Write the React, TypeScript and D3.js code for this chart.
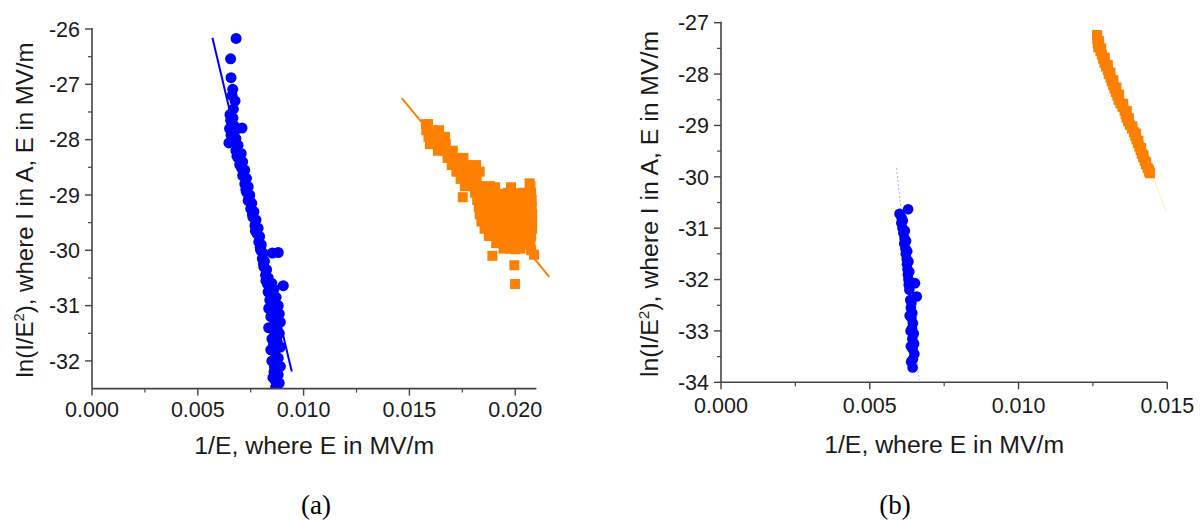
import React from 'react';
import * as d3 from 'd3';

// ---------- tick values / labels ----------
const xTicksA = [0, 0.005, 0.01, 0.015, 0.02];
const xTickLabelsA = ['0.000', '0.005', '0.010', '0.015', '0.020'];
const xMinorA = [0.0025, 0.0075, 0.0125, 0.0175];
const yTicksA = [-26, -27, -28, -29, -30, -31, -32];
const yMinorA = [-26.5, -27.5, -28.5, -29.5, -30.5, -31.5];

const xTicksB = [0, 0.005, 0.01, 0.015];
const xTickLabelsB = ['0.000', '0.005', '0.010', '0.015'];
const xMinorB = [0.0025, 0.0075, 0.0125];
const yTicksB = [-27, -28, -29, -30, -31, -32, -33, -34];
const yMinorB = [-27.5, -28.5, -29.5, -30.5, -31.5, -32.5, -33.5];

// ---------- panel (a) data ----------
const blueA: [number, number][] = [
  [0.00681, -26.17], [0.00655, -26.54], [0.00657, -26.88], [0.00665, -27.09], [0.00662, -27.2],
  [0.00676, -27.3], [0.00652, -27.55], [0.00666, -27.61], [0.0066, -27.7], [0.0065, -27.8],
  [0.00709, -27.79], [0.00672, -27.75], [0.00657, -27.92], [0.00647, -28.06], [0.0068, -27.98],
  [0.0069, -28.1], [0.0068, -28.2], [0.00705, -28.25], [0.00695, -28.35], [0.00712, -28.4],
  [0.00705, -28.5], [0.00722, -28.55], [0.00712, -28.65], [0.0073, -28.7], [0.00722, -28.8],
  [0.00738, -28.85], [0.0073, -28.95], [0.00745, -29.0], [0.00738, -29.1], [0.00755, -29.15],
  [0.0075, -29.25], [0.00765, -29.3], [0.0076, -29.4], [0.00775, -29.45], [0.0077, -29.55],
  [0.00785, -29.6], [0.0078, -29.7], [0.00792, -29.75], [0.00788, -29.85], [0.008, -29.9],
  [0.00797, -30.0], [0.00808, -30.05], [0.0088, -30.04], [0.00805, -30.15], [0.00815, -30.2],
  [0.00812, -30.3], [0.00825, -30.35], [0.0082, -30.45], [0.00833, -30.5], [0.00828, -30.6],
  [0.00904, -30.64], [0.00838, -30.65], [0.00832, -30.75], [0.00847, -30.8], [0.0086, -30.7],
  [0.0087, -30.85], [0.0084, -30.9], [0.00855, -30.95], [0.0088, -31.0], [0.00835, -31.05],
  [0.00865, -31.1], [0.00885, -31.15], [0.00845, -31.2], [0.0087, -31.25], [0.0089, -31.3],
  [0.00835, -31.4], [0.0086, -31.45], [0.00885, -31.5], [0.0085, -31.6], [0.00875, -31.65],
  [0.0089, -31.75], [0.00845, -31.8], [0.00865, -31.85], [0.0088, -31.95], [0.0085, -32.0],
  [0.0087, -32.05], [0.0089, -32.1], [0.0086, -32.2], [0.0088, -32.25], [0.00865, -32.35],
  [0.00878, -32.42], [0.00868, -32.48],
  [0.00668, -27.45], [0.00655, -27.65], [0.00675, -27.85], [0.00663, -28.0], [0.00685, -28.3],
  [0.00698, -28.45], [0.00715, -28.6], [0.00727, -28.9], [0.00742, -29.05], [0.00758, -29.35],
  [0.00772, -29.65], [0.00795, -29.95], [0.0081, -30.25], [0.00822, -30.55], [0.0085, -30.6],
  [0.00862, -31.35], [0.00875, -31.55], [0.00858, -31.7], [0.00862, -32.1], [0.00885, -32.4],
  [0.00855, -32.3], [0.00852, -30.05], [0.0087, -31.45],
];
const orangeA: [number, number][] = [
  [0.01578, -27.72], [0.01588, -27.72],
  [0.0158, -27.83], [0.01608, -27.83], [0.0164, -27.83],
  [0.0159, -27.95], [0.01618, -27.95], [0.01648, -27.95], [0.01668, -27.95],
  [0.01597, -28.08], [0.01628, -28.08], [0.0166, -28.08], [0.01672, -28.08],
  [0.01635, -28.2], [0.01668, -28.2], [0.01705, -28.2],
  [0.0168, -28.33], [0.01718, -28.33], [0.01755, -28.33],
  [0.017, -28.46], [0.01738, -28.46], [0.01775, -28.46], [0.01815, -28.46],
  [0.01722, -28.58], [0.0176, -28.58], [0.01798, -28.58], [0.01832, -28.58],
  [0.01742, -28.71], [0.0178, -28.71], [0.01818, -28.71], [0.02068, -28.79],
  [0.01762, -28.84], [0.018, -28.84], [0.0184, -28.84], [0.0188, -28.84], [0.01905, -28.86],
  [0.0198, -28.86], [0.02072, -28.84],
  [0.0181, -28.96], [0.01845, -28.96], [0.01875, -28.96], [0.01905, -28.96], [0.01935, -28.98],
  [0.01965, -28.96], [0.01995, -28.97], [0.02035, -28.96], [0.02075, -28.96],
  [0.01752, -29.04],
  [0.0182, -29.09], [0.0185, -29.09], [0.01882, -29.1], [0.01912, -29.09], [0.0194, -29.09],
  [0.01972, -29.1], [0.02005, -29.09], [0.0204, -29.09], [0.02078, -29.09],
  [0.01828, -29.22], [0.01858, -29.22], [0.01888, -29.23], [0.01918, -29.22], [0.01948, -29.22],
  [0.01978, -29.21], [0.02008, -29.22], [0.02045, -29.22], [0.02078, -29.22],
  [0.01832, -29.35], [0.01862, -29.35], [0.01895, -29.36], [0.01925, -29.35], [0.01955, -29.35],
  [0.01985, -29.34], [0.02015, -29.35], [0.0205, -29.35], [0.0208, -29.35],
  [0.0184, -29.48], [0.0187, -29.48], [0.019, -29.49], [0.01932, -29.48], [0.01962, -29.48],
  [0.01992, -29.47], [0.02022, -29.48], [0.02055, -29.48], [0.0208, -29.48],
  [0.01855, -29.61], [0.01882, -29.61], [0.0191, -29.62], [0.0194, -29.61], [0.0197, -29.61],
  [0.02, -29.6], [0.0203, -29.61], [0.0206, -29.61], [0.0208, -29.61],
  [0.01875, -29.74], [0.019, -29.74], [0.01928, -29.75], [0.01955, -29.74], [0.01985, -29.74],
  [0.02015, -29.73], [0.02045, -29.74], [0.02075, -29.74],
  [0.0191, -29.87], [0.01935, -29.87], [0.01962, -29.88], [0.0199, -29.87], [0.0202, -29.87],
  [0.0205, -29.86], [0.02072, -29.87],
  [0.01945, -29.97], [0.01975, -29.97], [0.02, -29.98], [0.02025, -29.97],
  [0.01892, -30.1], [0.01996, -30.27], [0.01999, -30.61], [0.02089, -30.08], [0.02075, -30.0],
];
const blueFitA: [number, number][] = [[0.00569, -26.16], [0.00944, -32.19]];
const orangeFitA: [number, number][] = [[0.01464, -27.25], [0.02161, -30.48]];

// ---------- panel (b) data ----------
const blueB: [number, number][] = [
  [0.00629, -30.63], [0.006, -30.72], [0.00607, -30.8], [0.00606, -30.9], [0.0061, -31.0],
  [0.00613, -31.1], [0.00617, -31.2], [0.00616, -31.3], [0.0062, -31.4], [0.00621, -31.5],
  [0.00624, -31.6], [0.00625, -31.7], [0.00627, -31.8], [0.00628, -31.9], [0.0063, -32.0],
  [0.00652, -32.07], [0.00631, -32.1], [0.00633, -32.2], [0.00658, -32.33], [0.00636, -32.4],
  [0.00638, -32.55], [0.00643, -32.65], [0.0064, -32.75], [0.00645, -32.85], [0.00642, -32.95],
  [0.00648, -33.05], [0.00643, -33.15], [0.00649, -33.25], [0.00644, -33.35], [0.0065, -33.45],
  [0.00645, -33.55], [0.00644, -33.71],
  [0.00611, -30.85], [0.00618, -31.05], [0.00622, -31.25], [0.00626, -31.45], [0.0063, -31.65],
  [0.00633, -31.85], [0.00637, -32.05], [0.0064, -32.45], [0.00634, -32.7], [0.00637, -33.0],
  [0.00638, -33.3], [0.00639, -33.6],
];
const orangeB: [number, number][] = [
  [0.01264, -27.24], [0.01265, -27.32], [0.01266, -27.4], [0.01268, -27.48], [0.01275, -27.55],
  [0.0128, -27.62], [0.01284, -27.7], [0.01289, -27.78], [0.01294, -27.85], [0.013, -27.92],
  [0.01303, -28.0], [0.01309, -28.07], [0.01313, -28.14], [0.01318, -28.21], [0.01322, -28.28],
  [0.01327, -28.35], [0.01332, -28.42], [0.01336, -28.5], [0.01342, -28.57], [0.01349, -28.64],
  [0.01356, -28.71], [0.0136, -28.78], [0.01363, -28.85], [0.01368, -28.92], [0.01374, -28.99],
  [0.01381, -29.06], [0.01388, -29.13], [0.01392, -29.2], [0.01396, -29.27], [0.01401, -29.34],
  [0.01406, -29.41], [0.0141, -29.48], [0.01414, -29.55], [0.01419, -29.62], [0.01424, -29.69],
  [0.01428, -29.76], [0.01434, -29.83], [0.01439, -29.9], [0.01442, -29.93],
  [0.01271, -27.36], [0.01278, -27.5], [0.0129, -27.68], [0.013, -27.82], [0.01309, -27.97],
  [0.01319, -28.12], [0.01329, -28.26], [0.01338, -28.4], [0.01352, -28.58], [0.01364, -28.72],
  [0.01371, -28.86], [0.01383, -29.02], [0.01395, -29.16], [0.01403, -29.3], [0.01412, -29.44],
  [0.0142, -29.58], [0.01429, -29.72], [0.01438, -29.86],
];
const blueFitB: [number, number][] = [[0.0059, -29.83], [0.00666, -33.96]];
const orangeFitB: [number, number][] = [[0.012456, -27.01], [0.014953, -30.65]];

const SANS = '"Liberation Sans", Arial, sans-serif';
const SERIF = '"Liberation Serif", "Times New Roman", serif';
const AXIS = '#444';
const BLUE = '#0000ff';
const ORANGE = '#ff8000';

type PanelProps = {
  id: string;
  xRange: [number, number];
  yRange: [number, number];
  xDomain: [number, number];
  yDomain: [number, number];
  xTicks: number[];
  xLabels: string[];
  xMinor: number[];
  yTicks: number[];
  yMinor: number[];
  xLabelBase: number;
  xTitleBase: number;
  yTitleX: number;
  yTitleY: number;
  yTitleSize: number;
  blue: [number, number][];
  orange: [number, number][];
  blueFit: [number, number][];
  orangeFit: [number, number][];
  blueFitStyle: any;
  orangeFitStyle: any;
  r: number;
  sq: number;
  tag: string;
  tagX: number;
};

function Panel(p: PanelProps) {
  const x = d3.scaleLinear().domain(p.xDomain).range(p.xRange);
  const y = d3.scaleLinear().domain(p.yDomain).range(p.yRange);
  const line = d3.line<[number, number]>().x((d) => x(d[0])).y((d) => y(d[1]));
  const x0 = p.xRange[0];
  const x1 = p.xRange[1];
  const yb = p.yRange[0];
  const yt = p.yRange[1];
  const xMid = (x0 + x1) / 2;
  return (
    <g>
      <defs>
        <clipPath id={p.id}>
          <rect x={x0} y={0} width={x1 - x0 + 40} height={yb} />
        </clipPath>
      </defs>
      <g clipPath={`url(#${p.id})`}>
        <path d={line(p.blueFit) || ''} fill="none" {...p.blueFitStyle} />
        <path d={line(p.orangeFit) || ''} fill="none" {...p.orangeFitStyle} />
        {p.blue.map((d, i) => (
          <circle key={'b' + i} cx={x(d[0])} cy={y(d[1])} r={p.r} fill={BLUE} />
        ))}
        {p.orange.map((d, i) => (
          <rect key={'o' + i} x={x(d[0]) - p.sq / 2} y={y(d[1]) - p.sq / 2} width={p.sq} height={p.sq} fill={ORANGE} />
        ))}
      </g>
      {/* axes */}
      <line x1={x0} x2={x0} y1={yt - 1} y2={yb} stroke={AXIS} strokeWidth={1.6} />
      <line x1={x0} x2={x1} y1={yb} y2={yb} stroke={AXIS} strokeWidth={1.6} />
      {p.yTicks.map((t) => (
        <g key={'yt' + t}>
          <line x1={x0 - 7} x2={x0} y1={y(t)} y2={y(t)} stroke={AXIS} strokeWidth={1.4} />
          <text x={x0 - 12} y={y(t)} dy="0.36em" textAnchor="end" fontFamily={SANS} fontSize={21.5} fill="#1a1a1a">
            {String(t)}
          </text>
        </g>
      ))}
      {p.yMinor.map((t) => (
        <line key={'ym' + t} x1={x0 - 4} x2={x0} y1={y(t)} y2={y(t)} stroke={AXIS} strokeWidth={1.2} />
      ))}
      {p.xTicks.map((t, i) => (
        <g key={'xt' + t}>
          <line x1={x(t)} x2={x(t)} y1={yb} y2={yb + 7} stroke={AXIS} strokeWidth={1.4} />
          <text x={x(t)} y={p.xLabelBase} textAnchor="middle" fontFamily={SANS} fontSize={21.5} fill="#1a1a1a">
            {p.xLabels[i]}
          </text>
        </g>
      ))}
      {p.xMinor.map((t) => (
        <line key={'xm' + t} x1={x(t)} x2={x(t)} y1={yb} y2={yb + 4} stroke={AXIS} strokeWidth={1.2} />
      ))}
      <text x={xMid} y={p.xTitleBase} textAnchor="middle" fontFamily={SANS} fontSize={23} fill="#1a1a1a"
        textLength={240} lengthAdjust="spacingAndGlyphs">
        1/E, where E in MV/m
      </text>
      <text transform={`translate(${p.yTitleX},${p.yTitleY}) rotate(-90)`} textAnchor="middle" fontFamily={SANS}
        fontSize={p.yTitleSize} fill="#1a1a1a">
        ln(I/E<tspan dy={-9} fontSize={p.yTitleSize * 0.62}>2</tspan><tspan dy={9}>), where I in A, E in MV/m</tspan>
      </text>
      <text x={p.tagX} y={514} textAnchor="middle" fontFamily={SERIF} fontSize={27} fill="#000">
        {p.tag}
      </text>
    </g>
  );
}

export default function App() {
  return (
    <svg width={1204} height={522} style={{ position: 'absolute', left: 0, top: 0, background: '#fff' }}>
      <rect x={0} y={0} width={1204} height={522} fill="#fff" />
      <Panel
        id="clipA"
        xRange={[92, 536.4]}
        yRange={[388.6, 29]}
        xDomain={[0, 0.021]}
        yDomain={[-32.5, -26]}
        xTicks={xTicksA}
        xLabels={xTickLabelsA}
        xMinor={xMinorA}
        yTicks={yTicksA}
        yMinor={yMinorA}
        xLabelBase={417}
        xTitleBase={454}
        yTitleX={33}
        yTitleY={210}
        yTitleSize={24}
        blue={blueA}
        orange={orangeA}
        blueFit={blueFitA}
        orangeFit={orangeFitA}
        blueFitStyle={{ stroke: BLUE, strokeWidth: 2 }}
        orangeFitStyle={{ stroke: ORANGE, strokeWidth: 2 }}
        r={5.5}
        sq={10}
        tag="(a)"
        tagX={316}
      />
      <Panel
        id="clipB"
        xRange={[721, 1167.3]}
        yRange={[382.3, 22.7]}
        xDomain={[0, 0.015]}
        yDomain={[-34, -27]}
        xTicks={xTicksB}
        xLabels={xTickLabelsB}
        xMinor={xMinorB}
        yTicks={yTicksB}
        yMinor={yMinorB}
        xLabelBase={413}
        xTitleBase={453}
        yTitleX={658}
        yTitleY={204}
        yTitleSize={24.8}
        blue={blueB}
        orange={orangeB}
        blueFit={blueFitB}
        orangeFit={orangeFitB}
        blueFitStyle={{ stroke: '#aab0ff', strokeWidth: 1, strokeDasharray: '2 2' }}
        orangeFitStyle={{ stroke: '#fff0c8', strokeWidth: 1.2 }}
        r={5.3}
        sq={10}
        tag="(b)"
        tagX={895}
      />
    </svg>
  );
}
